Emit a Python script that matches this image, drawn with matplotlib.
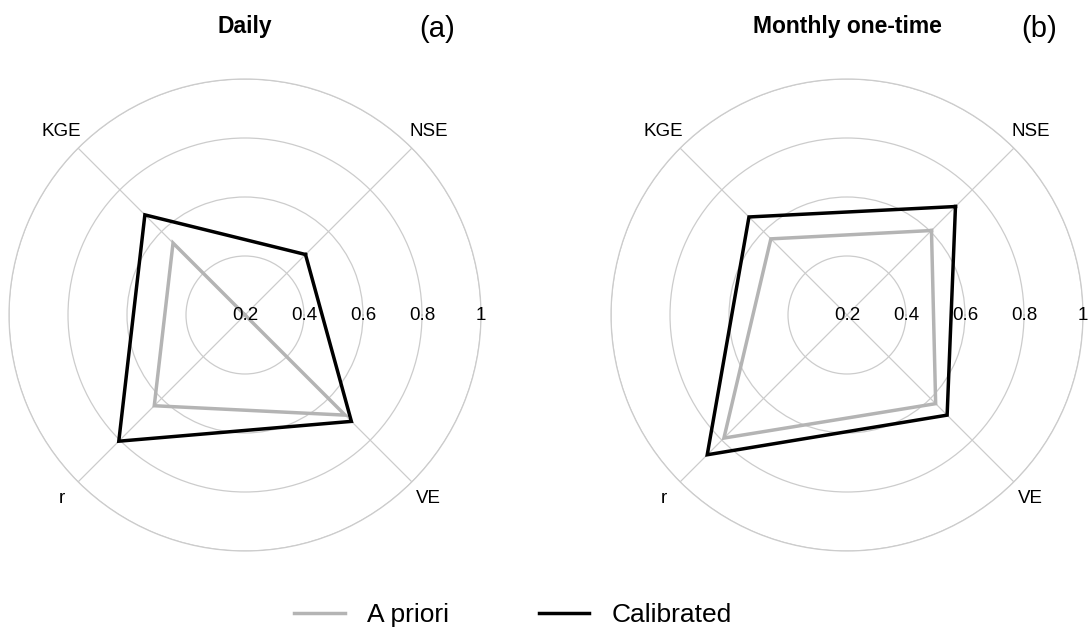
import numpy as np
import matplotlib
matplotlib.use('Agg')
import matplotlib.pyplot as plt
from matplotlib.lines import Line2D

plt.rcParams['font.family'] = ['Liberation Sans', 'DejaVu Sans']

# Performance metrics on the four spokes
metrics = ['NSE', 'KGE', 'r', 'VE']
angles_deg = [45, 135, 225, 315]

# Daily run
daily_apriori = [0.20, 0.545, 0.635, 0.68]
daily_calib = [0.49, 0.68, 0.805, 0.71]

# Monthly one-time run
monthly_apriori = [0.605, 0.565, 0.79, 0.625]
monthly_calib = [0.72, 0.67, 0.87, 0.68]

r_ticks = [0.2, 0.4, 0.6, 0.8, 1.0]
r_labels = ['0.2', '0.4', '0.6', '0.8', '1']

titles = ['Daily', 'Monthly one-time']
panels = ['(a)', '(b)']
series_names = ['A priori', 'Calibrated']
series_colors = ['#b4b4b4', '#000000']
grid_col = '#cccccc'

W, H = 1091, 637
fig = plt.figure(figsize=(W / 100, H / 100), dpi=100)

centers = [245, 847]
R = 236


def radar(ax, apriori, calib):
    theta = np.deg2rad(angles_deg)
    th = np.append(theta, theta[0])
    ax.set_ylim(0.2, 1.0)
    ax.set_yticks(r_ticks)
    ax.set_yticklabels([])
    ax.set_xticks(theta)
    ax.set_xticklabels([])
    ax.grid(True, color=grid_col, lw=0.9)
    ax.spines['polar'].set_color(grid_col)
    ax.spines['polar'].set_linewidth(0.9)
    ax.tick_params(length=0)
    for vals, col in zip([apriori, calib], series_colors):
        v = np.append(vals, vals[0])
        ax.plot(th, v, color=col, lw=2.5, solid_joinstyle='miter', zorder=3)
    for rv, lab in zip(r_ticks, r_labels):
        ax.text(0, rv, lab, ha='center', va='center', fontsize=13.5, zorder=4)
    for a, name in zip(theta, metrics):
        ax.text(a, 1.08, name, ha='center', va='center', fontsize=13.5,
                clip_on=False)


for cx, title, tag, ap, ca in zip(centers, titles, panels,
                                  [daily_apriori, monthly_apriori],
                                  [daily_calib, monthly_calib]):
    ax = fig.add_axes([(cx - R) / W, (H - 315 - R) / H, 2 * R / W, 2 * R / H],
                      projection='polar')
    radar(ax, ap, ca)
    fig.text(cx / W, 1 - 26 / H, title, ha='center', va='center',
             fontsize=16.5, fontweight='bold')
    fig.text((cx + 192) / W, 1 - 29 / H, tag, ha='center', va='center',
             fontsize=21)

handles = [Line2D([], [], color=c, lw=2.5) for c in series_colors]
fig.legend(handles, series_names, loc='center', ncol=2,
           bbox_to_anchor=(513 / W, 1 - 615 / H), frameon=False,
           fontsize=19, handlelength=1.9, handletextpad=0.85,
           columnspacing=3.4)

fig.savefig('out.png', dpi=100)
